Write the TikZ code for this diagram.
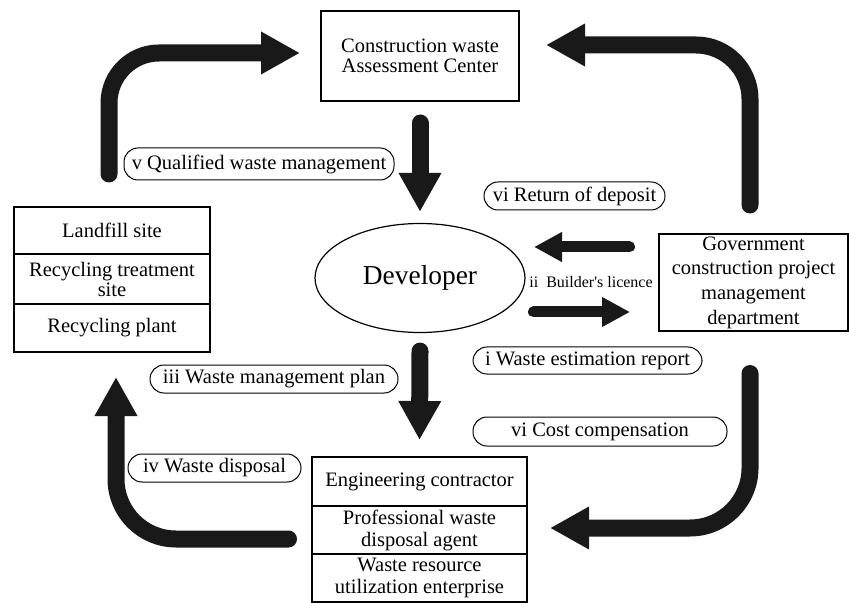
\documentclass[tikz,border=0pt]{standalone}
\usepackage{fontspec}
\setmainfont{Liberation Serif}
\usetikzlibrary{arrows.meta,shapes.geometric,positioning}

\tikzset{
  box/.style={draw,line width=0.6pt,align=center,inner sep=0pt,outer sep=0pt,
    font=\fontsize{10.25}{11}\selectfont},
  pill/.style={draw,line width=0.5pt,rounded corners=7pt,minimum height=14pt,
    inner sep=0pt,font=\fontsize{10.25}{12}\selectfont},
  bigarrow/.style={draw=black!90,line width=8.5pt,line cap=round,
    -{Triangle[length=19.5pt,width=20pt]}},
  smallarrow/.style={draw=black!90,line width=5.5pt,line cap=round,
    -{Triangle[length=14pt,width=14pt]}}
}

\begin{document}
\begin{tikzpicture}[x=0.5pt,y=-0.5pt]
  \useasboundingbox (0,0) rectangle (849,603);

  % Developer in the middle
  \node[ellipse,draw,line width=0.6pt,minimum width=105pt,minimum height=54.5pt,
    inner sep=0pt,font=\fontsize{13.7}{16}\selectfont] (dev) at (420,278) {Developer};

  % Single boxes
  \node[box,minimum width=99pt,minimum height=45pt,font=\fontsize{10.25}{10}\selectfont]
    (assess) at (420,56) {Construction waste\\Assessment Center};
  \node[box,minimum width=94.5pt,minimum height=48.5pt,font=\fontsize{10.25}{12.3}\selectfont]
    (gov) at (753.5,282.5) {Government\\construction project\\management\\department};

  % Left stack
  \node[box,minimum width=98pt,minimum height=23.5pt] (landfill) at (112,230.5) {Landfill site};
  \node[box,minimum width=98pt,minimum height=25pt,below=0pt of landfill,
    font=\fontsize{10.25}{10}\selectfont] (treat) {Recycling treatment\\site};
  \node[box,minimum width=98pt,minimum height=24pt,below=0pt of treat] (plant) {Recycling plant};

  % Bottom stack
  \node[box,minimum width=107.5pt,minimum height=24.5pt] (contractor) at (419.5,481.5)
    {Engineering contractor};
  \node[box,minimum width=107.5pt,minimum height=24pt,below=0pt of contractor]
    (agent) {Professional waste\\disposal agent};
  \node[box,minimum width=107.5pt,minimum height=24pt,below=0pt of agent]
    (enterprise) {Waste resource\\utilization enterprise};

  % Labels
  \node[pill,minimum width=135pt,minimum height=16pt] (qualified) at (259,164) {v Qualified waste management};
  \node[pill,minimum width=90.5pt] (deposit) at (574.5,196) {vi Return of deposit};
  \node[pill,minimum width=114.5pt,minimum height=13.5pt] (estimation) at (587.5,360.5) {i Waste estimation report};
  \node[pill,minimum width=127pt,minimum height=14.5pt] (cost) at (600,431.5) {vi Cost compensation};
  \node[pill,minimum width=124pt] (plan) at (274,379) {iii Waste management plan};
  \node[pill,minimum width=86.5pt] (disposal) at (214.5,468) {iv Waste disposal};
  \node[font=\fontsize{8}{9}\selectfont,inner sep=0pt] (licence) at (591,282)
    {ii\ \ Builder\textquotesingle s licence};

  % Arrow ends
  \coordinate (lt) at (109,174);
  \coordinate (rt) at (750,205);
  \coordinate (rb) at (750,373.5);
  \coordinate (lb) at (288.5,539);
  \coordinate (lbtip) at (116,377);
  \coordinate (rbtip) at (550,528);
  \coordinate (retA) at (629.5,247);
  \coordinate (retB) at (534,247);
  \coordinate (licA) at (533.5,312);
  \coordinate (licB) at (630,312);

  % Arrows
  \draw[bigarrow,rounded corners=25pt] (lt) |- ([xshift=-10.5pt,yshift=1.5pt]assess.west);
  \draw[bigarrow,rounded corners=27pt] (rt) |- ([xshift=13.5pt,yshift=5.5pt]assess.east);
  \draw[bigarrow] ([yshift=-11pt]assess.south) -- ([yshift=5.5pt]dev.north);
  \draw[bigarrow] ([yshift=-9pt]dev.south) -- ([yshift=8.5pt]contractor.north);
  \draw[bigarrow,rounded corners=30pt] (lb) -| (lbtip);
  \draw[bigarrow,rounded corners=30pt] (rb) |- (rbtip);
  \draw[smallarrow] (retA) -- (retB);
  \draw[smallarrow] (licA) -- (licB);
\end{tikzpicture}
\end{document}
